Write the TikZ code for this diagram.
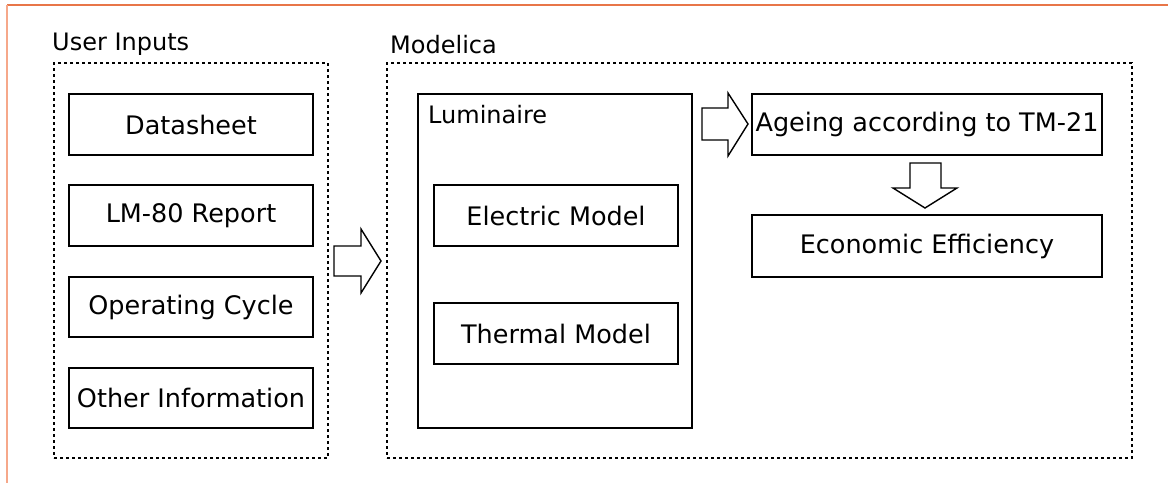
\documentclass[tikz,border=0pt]{standalone}
\usepackage{fontspec}
\setmainfont{DejaVu Sans}
\usetikzlibrary{positioning}
\definecolor{frameorange}{RGB}{232,118,72}
\definecolor{framesalmon}{RGB}{246,168,138}

\begin{document}
\begin{tikzpicture}[x=1pt, y=-1pt,
  inbox/.style={draw, line width=1.6pt, minimum width=244pt, minimum height=61pt, inner sep=0pt, font=\fontsize{25.5}{30}\selectfont},
  group/.style={draw, line width=2.8pt, dash pattern=on 2.6pt off 3.4pt, inner sep=0pt},
  grouplabel/.style={anchor=base west, inner sep=0pt, font=\fontsize{24}{28}\selectfont},
  blockarrow/.style={draw, line width=1.4pt, fill=white, line join=miter}]
\useasboundingbox (0,0) rectangle (1168,483);
%\draw[help lines, step=50] (0,0) grid (1168,483);
% frame lines
\draw [frameorange, line width=2pt] (7,5) -- (1168,5);
\draw [framesalmon, line width=2pt] (7,5) -- (7,483);
% user inputs
\node [group, minimum width=274pt, minimum height=395pt] (inputs) at (191,260.5) {};
\node [grouplabel] (inputslabel) at (52,50) {User Inputs};
\node [inbox] (datasheet) at (191,124.5) {Datasheet};
\node [inbox] (lmreport) at (191,215.5) {LM-80 Report};
\node [inbox, minimum height=60pt] (cycle) at (191,307) {Operating Cycle};
\node [inbox, minimum height=60pt] (otherinfo) at (191,398) {Other Information};
% modelica
\node [group, minimum width=745pt, minimum height=395pt] (modelica) at (759.5,260.5) {};
\node [grouplabel] (modelicalabel) at (390,53) {Modelica};
\node [draw, line width=1.6pt, minimum width=274pt, minimum height=334pt, inner sep=0pt] (luminaire) at (555,261) {};
\node [grouplabel] (luminairelabel) at (428,123) {Luminaire};
\node [inbox] (electric) at (556,215.5) {Electric Model};
\node [inbox] (thermal) at (556,333.5) {Thermal Model};
\node [inbox, minimum width=350pt] (ageing) at (927,124.5) {Ageing according to TM-21};
\node [inbox, minimum width=350pt, minimum height=62pt] (economic) at (927,246) {Economic Efficiency};
% block arrows
\draw [blockarrow] (334,246) -- (361,246) -- (361,229) -- (381,261) -- (361,293) -- (361,276) -- (334,276) -- cycle;
\draw [blockarrow] (702,108) -- (728,108) -- (728,93) -- (748,124) -- (728,156) -- (728,140) -- (702,140) -- cycle;
\draw [blockarrow] (910,163) -- (941,163) -- (941,188) -- (957,188) -- (925,208) -- (893,188) -- (910,188) -- cycle;
\end{tikzpicture}
\end{document}
